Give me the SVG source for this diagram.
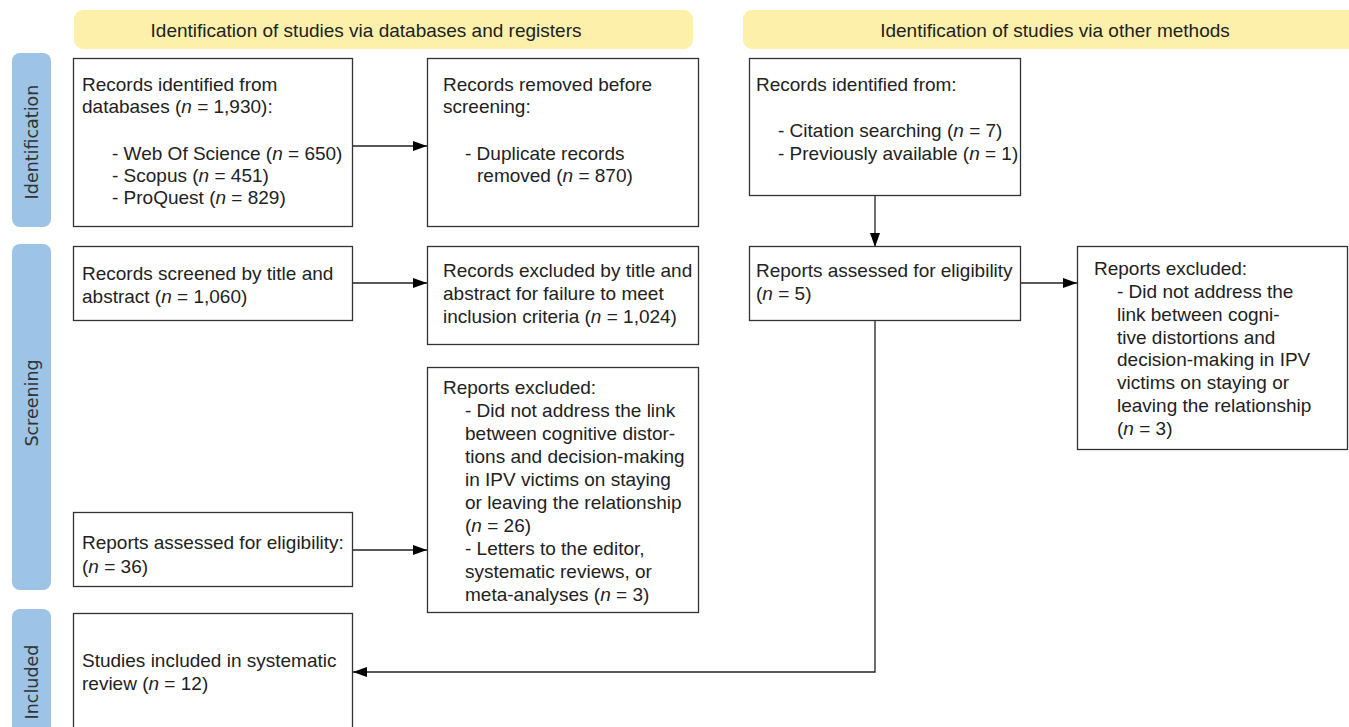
<svg xmlns="http://www.w3.org/2000/svg" width="1349" height="727" viewBox="0 0 1349 727">
<style>
.hdr{fill:#fcf0aa}
.side{fill:#9dc3e6}
.box{fill:#fff;stroke:#333;stroke-width:1.3}
.t{font-family:"Liberation Sans",Arial,sans-serif;font-size:19px;fill:#222}
.h{font-family:"Liberation Sans",Arial,sans-serif;font-size:19px;fill:#222;text-anchor:middle}
.s{font-family:"DejaVu Sans","Liberation Sans",sans-serif;font-size:17.5px;fill:#333;text-anchor:middle}
.i{font-style:italic}
.c{fill:none;stroke:#222;stroke-width:1.3}
</style>
<defs>
<marker id="ah" viewBox="0 0 14 10" refX="14" refY="5" markerWidth="14" markerHeight="10" markerUnits="userSpaceOnUse" orient="auto">
<path d="M0,0 L14,5 L0,10 Z" fill="#000"/>
</marker>
</defs>
<rect width="1349" height="727" fill="#fff"/>

<g id="header-databases">
<rect class="hdr" x="74" y="10" width="619" height="39" rx="9"/>
<text class="h" x="366" y="37">Identification of studies via databases and registers</text>
</g>
<g id="header-other">
<rect class="hdr" x="743" y="10" width="630" height="39" rx="9"/>
<text class="h" x="1055" y="37">Identification of studies via other methods</text>
</g>

<g id="side-identification">
<rect class="side" x="12" y="53" width="39" height="174" rx="8"/>
<text class="s" transform="translate(38,142) rotate(-90)">Identification</text>
</g>
<g id="side-screening">
<rect class="side" x="12" y="244" width="39" height="346" rx="8"/>
<text class="s" transform="translate(38,403) rotate(-90)">Screening</text>
</g>
<g id="side-included">
<rect class="side" x="12" y="609" width="39" height="140" rx="8"/>
<text class="s" transform="translate(38,682) rotate(-90)">Included</text>
</g>

<g id="connectors">
<line class="c" x1="352" y1="146" x2="427" y2="146" marker-end="url(#ah)"/>
<line class="c" x1="352" y1="283" x2="427" y2="283" marker-end="url(#ah)"/>
<line class="c" x1="352" y1="550" x2="427" y2="550" marker-end="url(#ah)"/>
<line class="c" x1="875" y1="196" x2="875" y2="247" marker-end="url(#ah)"/>
<line class="c" x1="1021" y1="283" x2="1077" y2="283" marker-end="url(#ah)"/>
<polyline class="c" points="875,321 875,672 353,672" marker-end="url(#ah)"/>
</g>

<g id="records-databases">
<rect class="box" x="73.5" y="58.5" width="279" height="168"/>
<text class="t" x="82" y="91">Records identified from</text>
<text class="t" x="82" y="113">databases (<tspan class="i">n</tspan> = 1,930):</text>
<text class="t" x="112" y="160">- Web Of Science (<tspan class="i">n</tspan> = 650)</text>
<text class="t" x="112" y="182">- Scopus (<tspan class="i">n</tspan> = 451)</text>
<text class="t" x="112" y="204">- ProQuest (<tspan class="i">n</tspan> = 829)</text>
</g>

<g id="records-removed">
<rect class="box" x="427.5" y="58.5" width="271" height="168"/>
<text class="t" x="443" y="91">Records removed before</text>
<text class="t" x="443" y="113">screening:</text>
<text class="t" x="465" y="160">- Duplicate records</text>
<text class="t" x="477" y="182">removed (<tspan class="i">n</tspan> = 870)</text>
</g>

<g id="records-other">
<rect class="box" x="749.5" y="58.5" width="271" height="137"/>
<text class="t" x="756" y="91">Records identified from:</text>
<text class="t" x="778" y="137">- Citation searching (<tspan class="i">n</tspan> = 7)</text>
<text class="t" x="778" y="160">- Previously available (<tspan class="i">n</tspan> = 1)</text>
</g>

<g id="records-screened">
<rect class="box" x="73.5" y="246.5" width="279" height="74"/>
<text class="t" x="82" y="280">Records screened by title and</text>
<text class="t" x="82" y="303">abstract (<tspan class="i">n</tspan> = 1,060)</text>
</g>

<g id="records-excluded">
<rect class="box" x="427.5" y="246.5" width="271" height="98"/>
<text class="t" x="443" y="277">Records excluded by title and</text>
<text class="t" x="443" y="300">abstract for failure to meet</text>
<text class="t" x="443" y="323">inclusion criteria (<tspan class="i">n</tspan> = 1,024)</text>
</g>

<g id="reports-assessed-other">
<rect class="box" x="749.5" y="246.5" width="271" height="74"/>
<text class="t" x="756" y="277">Reports assessed for eligibility</text>
<text class="t" x="756" y="300">(<tspan class="i">n</tspan> = 5)</text>
</g>

<g id="reports-excluded-other">
<rect class="box" x="1077.5" y="246.5" width="270" height="203"/>
<text class="t" x="1094" y="275">Reports excluded:</text>
<text class="t" x="1117" y="298">- Did not address the</text>
<text class="t" x="1117" y="321">link between cogni-</text>
<text class="t" x="1117" y="344">tive distortions and</text>
<text class="t" x="1117" y="366">decision-making in IPV</text>
<text class="t" x="1117" y="389">victims on staying or</text>
<text class="t" x="1117" y="412">leaving the relationship</text>
<text class="t" x="1117" y="435">(<tspan class="i">n</tspan> = 3)</text>
</g>

<g id="reports-excluded">
<rect class="box" x="427.5" y="367.5" width="271" height="245"/>
<text class="t" x="443" y="394">Reports excluded:</text>
<text class="t" x="465" y="417">- Did not address the link</text>
<text class="t" x="465" y="440">between cognitive distor-</text>
<text class="t" x="465" y="463">tions and decision-making</text>
<text class="t" x="465" y="486">in IPV victims on staying</text>
<text class="t" x="465" y="509">or leaving the relationship</text>
<text class="t" x="465" y="532">(<tspan class="i">n</tspan> = 26)</text>
<text class="t" x="465" y="555">- Letters to the editor,</text>
<text class="t" x="465" y="578">systematic reviews, or</text>
<text class="t" x="465" y="601">meta-analyses (<tspan class="i">n</tspan> = 3)</text>
</g>

<g id="reports-assessed">
<rect class="box" x="73.5" y="512.5" width="279" height="74"/>
<text class="t" x="82" y="549">Reports assessed for eligibility:</text>
<text class="t" x="82" y="573">(<tspan class="i">n</tspan> = 36)</text>
</g>

<g id="studies-included">
<rect class="box" x="73.5" y="613.5" width="279" height="130"/>
<text class="t" x="82" y="667">Studies included in systematic</text>
<text class="t" x="82" y="690">review (<tspan class="i">n</tspan> = 12)</text>
</g>
</svg>
